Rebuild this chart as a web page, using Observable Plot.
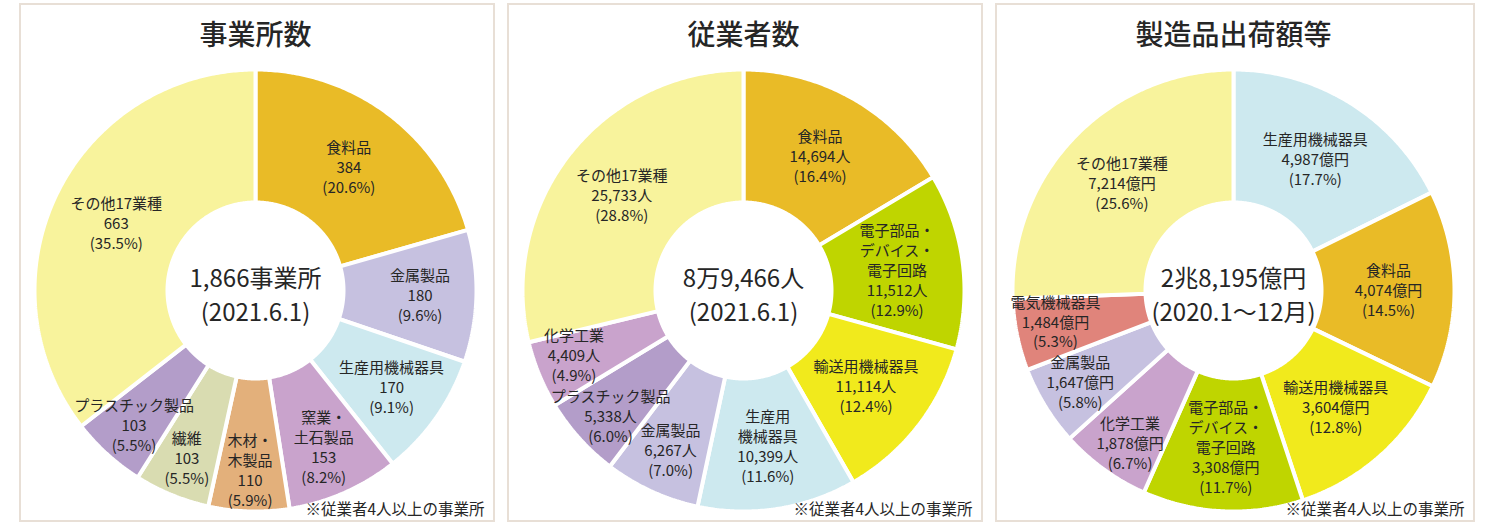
<!DOCTYPE html>
<html><head><meta charset="utf-8">
<script src="https://cdn.jsdelivr.net/npm/d3@7"></script>
<script src="https://cdn.jsdelivr.net/npm/@observablehq/plot@0.6"></script>
<style>
body{margin:0;background:#fff;width:1490px;height:524px;position:relative;overflow:hidden;font-family:"Noto Sans CJK JP",sans-serif;}
.panel{position:absolute;box-sizing:border-box;border:2px solid #e8dfd6;}
.panel svg{display:block;}
</style></head><body>
<div id="p0" class="panel" style="left:19px;top:3px;width:476px;height:519px"></div>
<div id="p1" class="panel" style="left:507px;top:3px;width:476px;height:519px"></div>
<div id="p2" class="panel" style="left:995px;top:3px;width:480px;height:519px"></div>
<script>
// ---- data ----
const titles = ["事業所数", "従業者数", "製造品出荷額等"];
const totals = ["1,866事業所\n(2021.6.1)", "8万9,466人\n(2021.6.1)", "2兆8,195億円\n(2020.1～12月)"];
const footnote = "※従業者4人以上の事業所";

const estLabels = ["食料品", "金属製品", "生産用機械器具", "窯業・\n土石製品", "木材・\n木製品", "繊維", "プラスチック製品", "その他17業種"];
const estValues = [384, 180, 170, 153, 110, 103, 103, 663];
const estShares = [20.6, 9.6, 9.1, 8.2, 5.9, 5.5, 5.5, 35.5];
const estUnit = "";

const empLabels = ["食料品", "電子部品・\nデバイス・\n電子回路", "輸送用機械器具", "生産用\n機械器具", "金属製品", "プラスチック製品", "化学工業", "その他17業種"];
const empValues = [14694, 11512, 11114, 10399, 6267, 5338, 4409, 25733];
const empShares = [16.4, 12.9, 12.4, 11.6, 7.0, 6.0, 4.9, 28.8];
const empUnit = "人";

const shipLabels = ["生産用機械器具", "食料品", "輸送用機械器具", "電子部品・\nデバイス・\n電子回路", "化学工業", "金属製品", "電気機械器具", "その他17業種"];
const shipValues = [4987, 4074, 3604, 3308, 1878, 1647, 1484, 7214];
const shipShares = [17.7, 14.5, 12.8, 11.7, 6.7, 5.8, 5.3, 25.6];
const shipUnit = "億円";

// ---- styles ----
const palette = {
  "食料品": "#e9bb27",
  "金属製品": "#c6c1e0",
  "生産用機械器具": "#cde9ef",
  "窯業・土石製品": "#c9a3cc",
  "化学工業": "#c9a3cc",
  "木材・木製品": "#e3b07b",
  "繊維": "#d9dcb1",
  "プラスチック製品": "#b39dc9",
  "その他17業種": "#f8f39c",
  "電子部品・デバイス・電子回路": "#bfd500",
  "輸送用機械器具": "#f1ea1c",
  "電気機械器具": "#e0847b"
};
const FONT = '"Noto Sans CJK JP", "Noto Sans", sans-serif';
const INK = "#262626";
const LABEL_SIZE = 15, LABEL_LH = 1.33;

function textWidth(s, size) {
  let w = 0;
  for (const ch of s) w += /[\u3000-\u9fff\uff00-\uffef]/.test(ch) ? size : size * 0.56;
  return w;
}

// simple vertical relaxation so that label lines never overlap
function relax(labels) {
  const lh = LABEL_SIZE * LABEL_LH;
  const lines = l => l.text.split("\n").map((s, k, arr) => ({
    cx: l.x, cy: l.y + (k - (arr.length - 1) / 2) * lh, w: textWidth(s, LABEL_SIZE), h: lh
  }));
  for (let it = 0; it < 60; it++) {
    let moved = false;
    for (let i = 0; i < labels.length; i++) for (let j = i + 1; j < labels.length; j++) {
      let over = 0;
      for (const a of lines(labels[i])) for (const b of lines(labels[j])) {
        const ox = (a.w + b.w) / 2 - Math.abs(a.cx - b.cx);
        const oy = (a.h + b.h) / 2 - Math.abs(a.cy - b.cy);
        if (ox > 0 && oy > 0) over = Math.max(over, oy);
      }
      if (over > 0) {
        const s = labels[i].y <= labels[j].y ? -1 : 1;
        labels[i].y += s * (over / 2 + 0.5);
        labels[j].y -= s * (over / 2 + 0.5);
        moved = true;
      }
    }
    if (!moved) break;
  }
  return labels;
}

function draw(id, title, total, labels, values, shares, unit) {
  const el = document.getElementById(id);
  const W = el.clientWidth, H = el.clientHeight;
  const cx = W / 2, cy = 285, ro = 221, ri = 88;
  const rows = labels.map((l, i) => ({label: l, key: l.replace(/\n/g, ""), value: values[i], share: shares[i]}));
  const arcs = d3.pie().sort(null).value(d => d.value)(rows);
  const pts = [];
  arcs.forEach((a, i) => {
    const n = Math.max(2, Math.ceil((a.endAngle - a.startAngle) / 0.01));
    const color = palette[a.data.key];
    for (let k = 0; k <= n; k++) {
      const t = a.startAngle + (a.endAngle - a.startAngle) * k / n;
      pts.push({z: i, x: ro * Math.sin(t), y: -ro * Math.cos(t), fill: color});
    }
    for (let k = n; k >= 0; k--) {
      const t = a.startAngle + (a.endAngle - a.startAngle) * k / n;
      pts.push({z: i, x: ri * Math.sin(t), y: -ri * Math.cos(t), fill: color});
    }
  });
  const lab = relax(arcs.map(a => {
    const m = (a.startAngle + a.endAngle) / 2;
    const s = a.data.share / 100;
    const r = 155 + Math.max(0, 0.12 - s) * 400;
    return {
      x: r * Math.sin(m), y: -r * Math.cos(m),
      text: `${a.data.label}\n${d3.format(",")(a.data.value)}${unit}\n(${a.data.share.toFixed(1)}%)`
    };
  }));
  const chart = Plot.plot({
    width: W - 4, height: H - 4, margin: 0,
    x: {domain: [-cx + 2, W - 4 - cx + 2], range: [0, W - 4], axis: null},
    y: {domain: [-cy, H - 4 - cy], range: [0, H - 4], axis: null},
    color: {type: "identity"},
    style: {fontFamily: FONT, background: "transparent", color: INK, overflow: "visible"},
    marks: [
      Plot.line(pts, {x: "x", y: "y", z: "z", fill: "fill", stroke: "white", strokeWidth: 4, strokeLinejoin: "miter", curve: "linear-closed"}),
      Plot.text(lab, {x: "x", y: "y", text: "text", fontSize: LABEL_SIZE, lineHeight: LABEL_LH, fill: INK, lineAnchor: "middle"}),
      Plot.text([total], {x: () => 0, y: () => 0, text: d => d, fontSize: 24, lineHeight: 1.4, dy: 3, fill: INK, lineAnchor: "middle"}),
      Plot.text([title], {frameAnchor: "top", dy: 31, text: d => d, fontSize: 28, fontWeight: 500, fill: INK, lineAnchor: "middle"}),
      Plot.text([footnote], {frameAnchor: "bottom-right", dx: -5, dy: -6, text: d => d, fontSize: 15.5, fill: INK, textAnchor: "end", lineAnchor: "middle"})
    ]
  });
  el.appendChild(chart);
}
draw("p0", titles[0], totals[0], estLabels, estValues, estShares, estUnit);
draw("p1", titles[1], totals[1], empLabels, empValues, empShares, empUnit);
draw("p2", titles[2], totals[2], shipLabels, shipValues, shipShares, shipUnit);
</script>
</body></html>
